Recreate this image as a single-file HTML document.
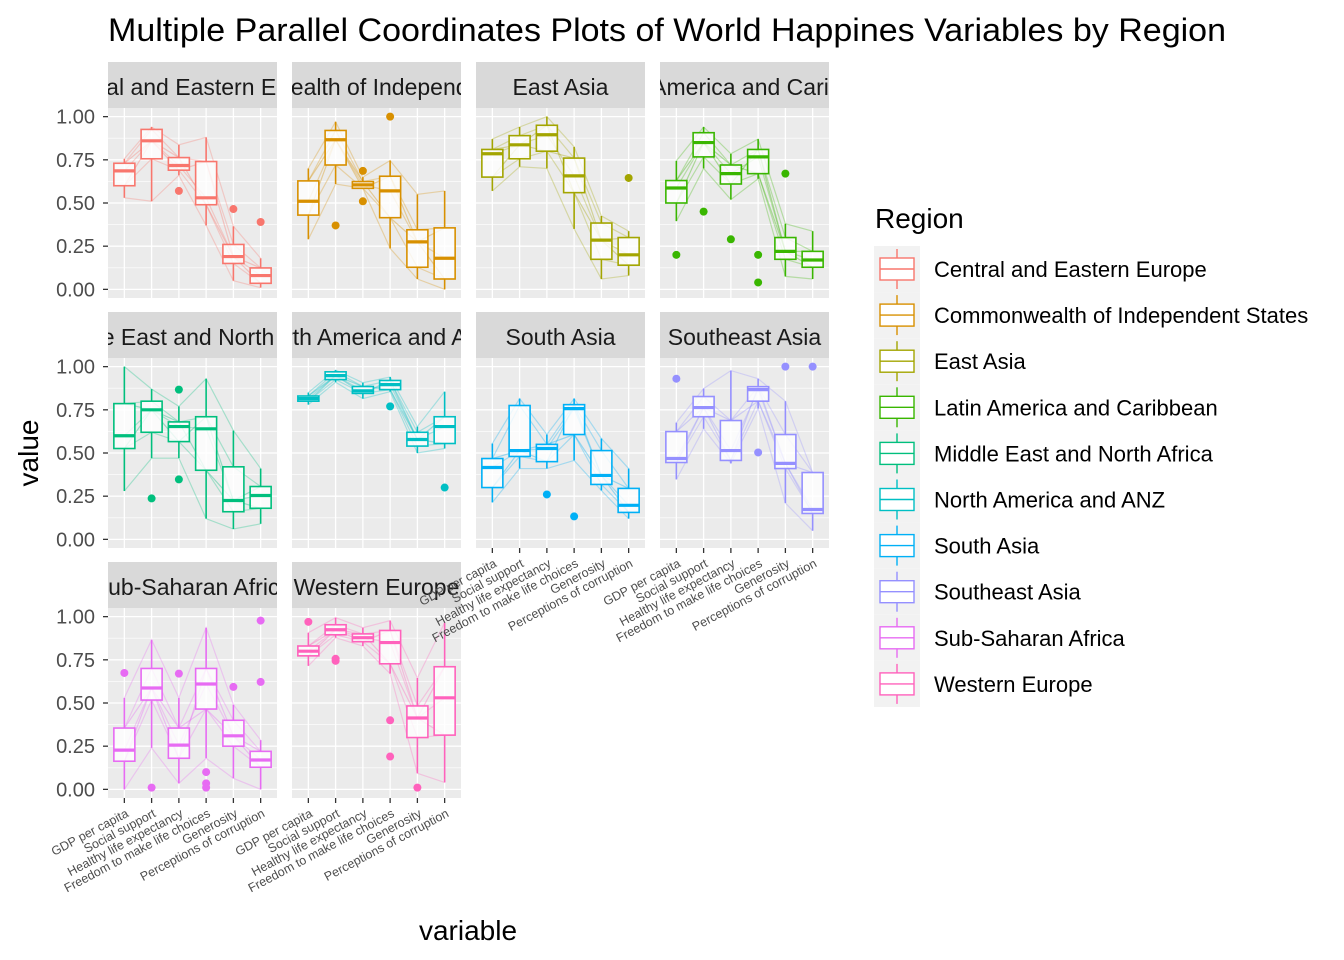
<!DOCTYPE html>
<html><head><meta charset="utf-8"><style>
body{margin:0;background:#fff;}
svg{display:block;font-family:"Liberation Sans",Arial,sans-serif;}
</style></head><body>
<svg id="chart" width="1344" height="960" viewBox="0 0 1344 960">
<text x="108" y="41" font-size="32" textLength="1118" lengthAdjust="spacingAndGlyphs" fill="#000">Multiple Parallel Coordinates Plots of World Happines Variables by Region</text>
<text transform="translate(38,453) rotate(-90)" text-anchor="middle" font-size="28" fill="#000">value</text>
<text x="468" y="940" text-anchor="middle" font-size="28" fill="#000">variable</text>
<g id="panels"></g>
<g id="xlabels"></g>
<g id="legend"></g>
</svg>
<script>
const variables = ["GDP per capita","Social support","Healthy life expectancy","Freedom to make life choices","Generosity","Perceptions of corruption"];
const regions = ["Central and Eastern Europe","Commonwealth of Independent States","East Asia","Latin America and Caribbean","Middle East and North Africa","North America and ANZ","South Asia","Southeast Asia","Sub-Saharan Africa","Western Europe"];
const colors = ["#F8766D","#D89000","#A3A500","#39B600","#00BF7D","#00BFC4","#00B0F6","#9590FF","#E76BF3","#FF62BC"];
const yTicks = [0,0.25,0.5,0.75,1];
const yTickLabels = ["0.00","0.25","0.50","0.75","1.00"];
// per region: per variable [whiskerLow, q1, median, q3, whiskerHigh]
const boxStats = [
 [[0.53,0.60,0.686,0.73,0.756],[0.51,0.756,0.86,0.926,0.94],[0.66,0.69,0.717,0.763,0.837],[0.37,0.49,0.53,0.74,0.88],[0.05,0.15,0.19,0.26,0.365],[0.01,0.035,0.08,0.124,0.18]],
 [[0.29,0.43,0.51,0.628,0.70],[0.61,0.72,0.866,0.92,0.97],[0.585,0.585,0.605,0.624,0.65],[0.237,0.415,0.57,0.655,0.746],[0.06,0.128,0.275,0.345,0.55],[0.0,0.06,0.18,0.356,0.57]],
 [[0.57,0.65,0.785,0.81,0.87],[0.71,0.756,0.837,0.89,0.94],[0.70,0.80,0.895,0.95,1.0],[0.35,0.56,0.657,0.76,0.825],[0.06,0.174,0.285,0.384,0.425],[0.08,0.14,0.2,0.30,0.337]],
 [[0.395,0.5,0.587,0.63,0.744],[0.7,0.767,0.85,0.907,0.94],[0.52,0.61,0.67,0.72,0.785],[0.64,0.67,0.767,0.81,0.87],[0.075,0.174,0.22,0.30,0.38],[0.06,0.128,0.17,0.22,0.337]],
 [[0.28,0.526,0.6,0.786,1.0],[0.47,0.62,0.75,0.80,0.87],[0.47,0.566,0.653,0.68,0.77],[0.12,0.40,0.64,0.71,0.93],[0.06,0.16,0.225,0.42,0.63],[0.09,0.18,0.254,0.306,0.41]],
 [[0.78,0.80,0.815,0.83,0.85],[0.91,0.925,0.948,0.97,0.98],[0.815,0.845,0.86,0.885,0.907],[0.855,0.867,0.896,0.92,0.94],[0.5,0.54,0.578,0.62,0.653],[0.526,0.555,0.653,0.71,0.855]],
 [[0.214,0.30,0.416,0.468,0.555],[0.41,0.48,0.514,0.775,0.815],[0.41,0.45,0.526,0.55,0.607],[0.457,0.607,0.757,0.78,0.815],[0.283,0.318,0.37,0.514,0.584],[0.12,0.156,0.197,0.295,0.41]],
 [[0.347,0.445,0.468,0.624,0.676],[0.64,0.71,0.763,0.827,0.873],[0.44,0.457,0.514,0.688,0.977],[0.757,0.8,0.867,0.884,0.93],[0.21,0.41,0.44,0.607,0.8],[0.05,0.15,0.173,0.387,0.387]],
 [[0.0,0.163,0.227,0.355,0.53],[0.24,0.517,0.587,0.70,0.866],[0.035,0.18,0.256,0.355,0.53],[0.18,0.465,0.61,0.70,0.936],[0.064,0.25,0.31,0.40,0.49],[0.0,0.128,0.17,0.22,0.285]],
 [[0.715,0.773,0.80,0.83,0.907],[0.878,0.895,0.924,0.953,0.994],[0.83,0.855,0.878,0.9,0.936],[0.67,0.727,0.85,0.92,0.977],[0.093,0.30,0.413,0.483,0.645],[0.04,0.314,0.53,0.71,0.965]]
];
// outliers per region per variable
const outliers = [
 [[],[],[0.57],[],[0.465],[0.39]],
 [[],[0.37],[0.686,0.51],[1.0],[],[]],
 [[],[],[],[],[],[0.645]],
 [[0.2],[0.45],[0.29],[0.2,0.04],[0.67],[]],
 [[],[0.237],[0.867,0.347],[],[],[]],
 [[],[],[],[0.77],[],[0.30]],
 [[],[],[0.26],[0.133],[],[]],
 [[0.93],[],[],[0.503],[1.0],[1.0]],
 [[0.674],[0.01],[0.67],[0.1,0.035,0.01],[0.593],[0.977,0.622]],
 [[0.97],[0.756,0.744],[],[0.40,0.19],[0.01],[]]
];
const NS="http://www.w3.org/2000/svg";
const panelsG=document.getElementById('panels');
const xlabG=document.getElementById('xlabels');
const colX=[108,292,476,660], pw=169;
const rowTop=[62,312,562], stripH=46, ph=190;
function el(tag,attrs,parent){const e=document.createElementNS(NS,tag);for(const k in attrs)e.setAttribute(k,attrs[k]);parent.appendChild(e);return e;}
const defs=el('defs',{},document.getElementById('chart'));
regions.forEach((reg,ri)=>{
  const col=ri%4,row=Math.floor(ri/4);
  const x0=colX[col], st=rowTop[row], py0=st+stripH, py1=py0+ph;
  const xs=i=>x0+pw*(i+1-0.4)/6.2;
  const ys=v=>py1-ph*(v+0.05)/1.1;
  const g=el('g',{},panelsG);
  
  
  const cp=el('clipPath',{id:'cp'+ri},defs);el('rect',{x:x0,y:st,width:pw,height:stripH},cp);
  const strip=el('rect',{x:x0,y:st,width:pw,height:stripH,fill:'#D9D9D9'},g);
  
  
  const stx=el('text',{x:x0+pw/2,y:st+33,'text-anchor':'middle','font-size':'23','fill':'#1A1A1A','clip-path':'url(#cp'+ri+')'},g);
  stx.textContent=reg;
  
  
  const bg=el('rect',{x:x0,y:py0,width:pw,height:ph,fill:'#EBEBEB'},g);
  
  
  [0.125,0.375,0.625,0.875].forEach(v=>el('line',{x1:x0,x2:x0+pw,y1:ys(v),y2:ys(v),stroke:'#fff','stroke-width':0.6},g));
  yTicks.forEach(v=>el('line',{x1:x0,x2:x0+pw,y1:ys(v),y2:ys(v),stroke:'#fff','stroke-width':1.3},g));
  variables.forEach((v,i)=>el('line',{x1:xs(i),x2:xs(i),y1:py0,y2:py1,stroke:'#fff','stroke-width':1.3},g));
  const c=colors[ri], bs=boxStats[ri];
  for(let k=0;k<5;k++){
    const pts=bs.map((s,i)=>xs(i)+','+ys(s[k])).join(' ');
    const pl=el('polyline',{points:pts,fill:'none',stroke:c,'stroke-opacity':0.3,'stroke-width':1.2},g);
    
    
  }
  for(let k=0;k<4;k++){
    const pts=bs.map((s,i)=>xs(i)+','+ys(k%2?s[1+((i)%3)]:s[3-((i)%3)])).join(' ');
    el('polyline',{points:pts,fill:'none',stroke:c,'stroke-opacity':0.2,'stroke-width':1.2},g);
  }
  bs.forEach((s,i)=>{
    const cx=xs(i), hw=10.5;
    const bx=el('g',{},g);
    
    
    el('line',{x1:cx,x2:cx,y1:ys(s[0]),y2:ys(s[1]),stroke:c,'stroke-width':1.6},bx);
    el('line',{x1:cx,x2:cx,y1:ys(s[3]),y2:ys(s[4]),stroke:c,'stroke-width':1.6},bx);
    el('rect',{x:cx-hw,y:ys(s[3]),width:2*hw,height:Math.max(ys(s[1])-ys(s[3]),1),fill:'#fff','fill-opacity':0.8,stroke:c,'stroke-width':1.6},bx);
    el('line',{x1:cx-hw,x2:cx+hw,y1:ys(s[2]),y2:ys(s[2]),stroke:c,'stroke-width':3.2},bx);
    outliers[ri][i].forEach(o=>{
      const pt=el('circle',{cx:cx,cy:ys(o),r:4,fill:c},bx);
      
      
    });
  });
  if(col===0){
    yTicks.forEach((v,k)=>{
      el('line',{x1:x0-5,x2:x0,y1:ys(v),y2:ys(v),stroke:'#333','stroke-width':1.3},g);
      const t=el('text',{x:x0-13,y:ys(v)+7,'text-anchor':'end','font-size':'20','fill':'#4D4D4D'},g);
      t.textContent=yTickLabels[k];
      
      
    });
  }
  const bottom = (row===2)||(row===1&&col>=2);
  if(bottom){
    variables.forEach((v,i)=>{
      el('line',{x1:xs(i),x2:xs(i),y1:py1,y2:py1+5,stroke:'#333','stroke-width':1.3},xlabG);
      const t=el('text',{'text-anchor':'end','font-size':'12.5','fill':'#4D4D4D',transform:'translate('+(xs(i)+5)+','+(py1+18)+') rotate(-28)'},xlabG);
      t.textContent=v;
      
      
    });
  }
});
const lg=document.getElementById('legend');
const lt=el('text',{x:875,y:228,'font-size':'28','fill':'#000'},lg);
lt.textContent='Region';


regions.forEach((r,i)=>{
  const y=246+i*46.1, c=colors[i];
  const e=el('g',{},lg);
  
  
  el('rect',{x:874,y:y,width:46,height:46.1,fill:'#F2F2F2'},e);
  el('line',{x1:897,x2:897,y1:y+3,y2:y+43,stroke:c,'stroke-width':1.4},e);
  el('rect',{x:880,y:y+12,width:34,height:22,fill:'#fff',stroke:c,'stroke-width':1.4},e);
  el('line',{x1:880,x2:914,y1:y+23,y2:y+23,stroke:c,'stroke-width':1.4},e);
  const t=el('text',{x:934,y:y+31,'font-size':'22','fill':'#000'},e);
  t.textContent=r;
});
</script>
</body></html>
